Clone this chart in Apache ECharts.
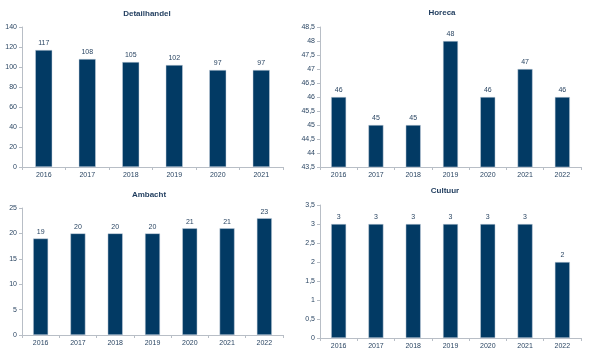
<!DOCTYPE html>
<html><head><meta charset="utf-8">
<script src="https://cdn.jsdelivr.net/npm/echarts@6/dist/echarts.min.js"></script>
<style>html,body{margin:0;padding:0;background:#fff}#c{width:598px;height:350px}</style>
</head><body><div id="c"></div>
<script>
var titles = ['Detailhandel', 'Horeca', 'Ambacht', 'Cultuur'];
var catsDetail = ['2016','2017','2018','2019','2020','2021'];
var catsYears = ['2016','2017','2018','2019','2020','2021','2022'];
var valDetail = [117, 108, 105, 102, 97, 97];
var valHoreca = [46, 45, 45, 48, 46, 47, 46];
var valAmbacht = [19, 20, 20, 20, 21, 21, 23];
var valCultuur = [3, 3, 3, 3, 3, 3, 2];
var yMin = [0, 43.5, 0, 0];
var yMax = [140, 48.5, 25, 3.5];
var yInt = [20, 0.5, 5, 0.5];

var txt = '#2b4663';
var bar = '#023a64';
var axisCol = '#b8bec6';
var font = 'Liberation Sans';
var grids = [
  {left: 22, right: 315, top: 27, bottom: 183},
  {left: 320, right: 17, top: 27, bottom: 183},
  {left: 22, right: 315, top: 208, bottom: 15},
  {left: 320, right: 17, top: 205, bottom: 12}
];
var titlePos = [[147, 10], [442, 9], [149, 191], [445, 187]];
var cats = [catsDetail, catsYears, catsYears, catsYears];
var vals = [valDetail, valHoreca, valAmbacht, valCultuur];
var bw = [17, 15, 15, 15];
function fmt(v){ return String(v).replace('.', ','); }
var option = {
  animation: false,
  title: titles.map(function(t, i){ return {text: t, left: titlePos[i][0], top: titlePos[i][1], textAlign: 'center', padding: 0,
    textStyle: {fontFamily: font, fontSize: 8, fontWeight: 'bold', color: '#1d3a5c'}}; }),
  grid: grids,
  xAxis: cats.map(function(c, i){ return {type: 'category', gridIndex: i, data: c,
    axisLine: {lineStyle: {color: axisCol}}, axisTick: {show: true, length: 3, lineStyle: {color: axisCol}},
    axisLabel: {fontFamily: font, fontSize: 7, color: txt, margin: 5}}; }),
  yAxis: yMin.map(function(m, i){ return {type: 'value', gridIndex: i, min: m, max: yMax[i], interval: yInt[i],
    axisLine: {show: true, lineStyle: {color: axisCol}}, axisTick: {show: true, length: 3, lineStyle: {color: axisCol}},
    splitLine: {show: false},
    axisLabel: {fontFamily: font, fontSize: 7, color: txt, margin: 5, formatter: fmt}}; }),
  series: vals.map(function(v, i){ return {type: 'bar', xAxisIndex: i, yAxisIndex: i, data: v, barWidth: bw[i],
    itemStyle: {color: bar, borderColor: '#c9d3de', borderWidth: 0.5},
    label: {show: true, position: 'top', distance: 3, fontFamily: font, fontSize: 7, color: txt}}; })
};
echarts.init(document.getElementById('c')).setOption(option);
</script></body></html>
